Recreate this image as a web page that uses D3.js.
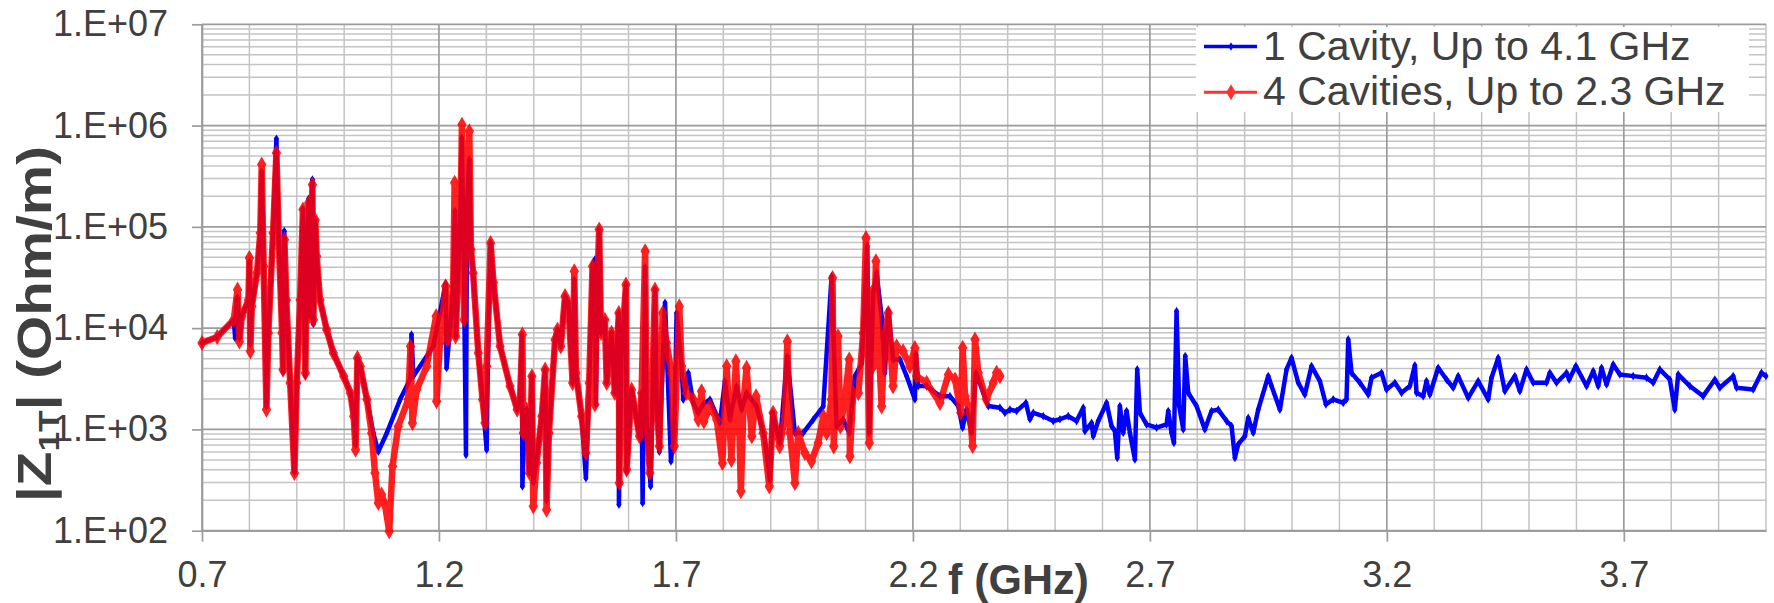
<!DOCTYPE html>
<html>
<head>
<meta charset="utf-8">
<script src="https://cdn.jsdelivr.net/npm/d3@7"></script>
<style>
  body { margin: 0; background: #fff; }
  svg { display: block; font-family: "Liberation Sans", Arial, sans-serif; }
</style>
</head>
<body>
<svg width="1774" height="603"></svg>
<script>
// series names (legend)
let series_names = ["1 Cavity, Up to 4.1 GHz", "4 Cavities, Up to 2.3 GHz"];

// axis ticks
let x_ticks = [0.7, 1.2, 1.7, 2.2, 2.7, 3.2, 3.7];
let y_ticks = [1e2, 1e3, 1e4, 1e5, 1e6, 1e7];

// |Z1T| for 1 cavity : [f (GHz), Ohm/m]
let cavity_1 = [
  [0.700, 7150], [0.732, 8180], [0.767, 12100], [0.770, 8000], [0.773, 19000], [0.775, 20000],
  [0.779, 8000], [0.784, 13100], [0.798, 19000], [0.800, 45000], [0.802, 7000], [0.805, 16400],
  [0.816, 35100], [0.823, 87000], [0.826, 350000], [0.830, 40800], [0.836, 1700], [0.840, 8970],
  [0.850, 87000], [0.857, 740000], [0.862, 74800], [0.869, 8970], [0.871, 3700], [0.8735, 91000],
  [0.878, 19000], [0.886, 2880], [0.895, 380], [0.900, 2880], [0.907, 19000], [0.913, 150000],
  [0.918, 3400], [0.921, 40800], [0.925, 189000], [0.928, 13100], [0.933, 293000], [0.935, 11000],
  [0.939, 117000], [0.942, 51300], [0.949, 19000], [0.963, 9660], [0.977, 5690], [0.999, 3350],
  [1.013, 2290], [1.020, 1350], [1.024, 700], [1.028, 5080], [1.034, 4210], [1.048, 1970],
  [1.062, 900], [1.072, 603], [1.090, 923], [1.118, 1970], [1.140, 3200], [1.142, 8630],
  [1.146, 3350], [1.188, 6610], [1.214, 27300], [1.216, 4050], [1.2232, 9660], [1.230, 25900],
  [1.2337, 143000], [1.2358, 8300], [1.241, 40800], [1.246, 186000], [1.248, 755000], [1.252, 60000],
  [1.257, 562], [1.259, 150000], [1.264, 461000], [1.2675, 59700], [1.272, 35100], [1.283, 5690],
  [1.292, 1970], [1.3006, 631], [1.303, 4210], [1.309, 69200], [1.315, 28200], [1.329, 6610],
  [1.350, 2670], [1.365, 1570], [1.371, 1970], [1.375, 8630], [1.376, 274], [1.380, 923],
  [1.385, 1570], [1.391, 372], [1.396, 3350], [1.399, 300], [1.406, 500], [1.417, 1350],
  [1.424, 3890], [1.427, 200], [1.432, 923], [1.445, 7700], [1.450, 9660], [1.457, 6610],
  [1.466, 20700], [1.473, 17800], [1.482, 2880], [1.4855, 30000], [1.489, 3610], [1.501, 1350],
  [1.510, 331], [1.517, 2880], [1.524, 40800], [1.529, 47500], [1.531, 1760], [1.534, 19000],
  [1.538, 94000], [1.542, 8970], [1.550, 12100], [1.554, 2880], [1.564, 8970], [1.571, 2290],
  [1.579, 14100], [1.5797, 181], [1.585, 5690], [1.5945, 26900], [1.596, 386], [1.6065, 2470],
  [1.623, 855], [1.6275, 2290], [1.6297, 188], [1.635, 40000], [1.638, 1250], [1.6465, 274],
  [1.6557, 24000], [1.659, 1970], [1.665, 603], [1.677, 17800], [1.680, 7150], [1.6895, 484],
  [1.6965, 1000], [1.7014, 14100], [1.712, 4210], [1.7154, 1970], [1.726, 3610], [1.7365, 1820],
  [1.747, 1460], [1.7576, 1780], [1.7717, 1970], [1.7928, 1160], [1.8033, 2990], [1.8139, 1260],
  [1.828, 2670], [1.8385, 1570], [1.8491, 2290], [1.8701, 1690], [1.8877, 800], [1.8983, 316],
  [1.9039, 1460], [1.9194, 735], [1.9348, 5250], [1.951, 923], [1.9686, 923], [1.9897, 1250],
  [2.0108, 1690], [2.0284, 32400], [2.0389, 1070], [2.053, 1250], [2.0656, 923], [2.0776, 3350],
  [2.0917, 4470], [2.1036, 64600], [2.1078, 923], [2.1163, 22300], [2.1233, 35100], [2.1339, 13100],
  [2.1409, 3610], [2.1479, 15100], [2.1584, 4900], [2.1726, 4910], [2.1867, 3360], [2.2042, 1980],
  [2.2064, 5500], [2.2113, 2680], [2.2289, 2680], [2.257, 2130], [2.2781, 2130], [2.2957, 1700],
  [2.3048, 1040], [2.3133, 1570], [2.3238, 927], [2.3329, 3620], [2.3484, 2300], [2.359, 1700],
  [2.3836, 1640], [2.3941, 1460], [2.4047, 1570], [2.4187, 1520], [2.4384, 1830], [2.4469, 1260],
  [2.4539, 1460], [2.475, 1350], [2.4961, 1210], [2.5102, 1260], [2.5277, 1350], [2.5453, 1210],
  [2.5594, 1640], [2.5629, 964], [2.577, 1160], [2.5805, 859], [2.591, 1210], [2.6086, 1830],
  [2.6191, 1080], [2.6262, 964], [2.6311, 525], [2.6367, 1700], [2.6438, 927], [2.6508, 1520],
  [2.6578, 927], [2.6684, 506], [2.6733, 3910], [2.679, 1460], [2.693, 1120], [2.7141, 1040],
  [2.7352, 1120], [2.7387, 1520], [2.7457, 927], [2.7507, 738], [2.7563, 14700], [2.7619, 1700],
  [2.7704, 1000], [2.7746, 5300], [2.7809, 2300], [2.7985, 1700], [2.816, 1000], [2.8301, 1520],
  [2.8442, 1570], [2.8618, 1210], [2.8723, 1080], [2.8794, 525], [2.8864, 711], [2.9005, 859],
  [2.9075, 1300], [2.9181, 927], [2.9286, 1570], [2.9497, 3360], [2.9567, 2680], [2.9743, 1570],
  [2.9884, 3910], [2.9989, 5090], [3.013, 2890], [3.027, 2210], [3.0411, 4220], [3.0587, 3000],
  [3.0714, 1770], [3.0868, 1980], [3.1079, 1830], [3.1149, 1980], [3.1185, 7730], [3.1255, 3620],
  [3.1431, 2890], [3.1607, 2210], [3.1677, 3240], [3.1888, 3620], [3.1993, 2480], [3.2169, 2890],
  [3.231, 2300], [3.2486, 2680], [3.2591, 4290], [3.2626, 2300], [3.2767, 2130], [3.2837, 3000],
  [3.2907, 2210], [3.3083, 4060], [3.3259, 3110], [3.34, 2580], [3.3505, 3360], [3.3716, 2050],
  [3.3927, 3000], [3.4138, 1980], [3.4209, 3240], [3.4349, 5090], [3.449, 2390], [3.4701, 3360],
  [3.4806, 2390], [3.4947, 3910], [3.5088, 2890], [3.5369, 2890], [3.5439, 3620], [3.558, 2890],
  [3.5791, 3620], [3.5847, 3110], [3.5988, 4220], [3.6213, 2680], [3.6354, 3770], [3.6459, 2680],
  [3.653, 4060], [3.6635, 2780], [3.6776, 4380], [3.6916, 3490], [3.7197, 3360], [3.7478, 3240],
  [3.7619, 2890], [3.776, 3910], [3.7971, 3110], [3.8076, 1570], [3.8147, 3490], [3.8393, 2680],
  [3.8674, 2130], [3.892, 3110], [3.9026, 2580], [3.9307, 3360], [3.9378, 2580], [3.9729, 2480],
  [3.9905, 3620], [4.000, 3360]
];

// |Z1T| for 4 cavities : [f (GHz), Ohm/m]
let cavities_4 = [
  [0.700, 7150], [0.732, 8180], [0.767, 12100], [0.775, 24000], [0.779, 7400], [0.784, 13100],
  [0.798, 19000], [0.800, 49300], [0.802, 5900], [0.805, 16400], [0.816, 35100], [0.823, 87000],
  [0.826, 412000], [0.830, 40800], [0.836, 1570], [0.840, 8970], [0.850, 87000], [0.857, 537000],
  [0.862, 74800], [0.869, 8970], [0.871, 3890], [0.874, 74800], [0.878, 19000], [0.886, 2880],
  [0.895, 372], [0.900, 2880], [0.907, 19000], [0.913, 148000], [0.918, 3610], [0.921, 40800],
  [0.925, 172000], [0.928, 13100], [0.933, 261000], [0.935, 12100], [0.939, 117000], [0.942, 51300],
  [0.949, 19000], [0.963, 9660], [0.977, 5690], [0.999, 3350], [1.013, 2290], [1.020, 1350],
  [1.024, 631], [1.028, 5080], [1.034, 4210], [1.048, 1970], [1.058, 923], [1.065, 372],
  [1.072, 188], [1.079, 227], [1.086, 181], [1.095, 99], [1.102, 433], [1.114, 1070],
  [1.135, 1970], [1.140, 6610], [1.144, 1160], [1.153, 2460], [1.174, 4210], [1.194, 13100],
  [1.195, 1900], [1.202, 7150], [1.214, 25900], [1.218, 7700], [1.223, 9660], [1.230, 25900],
  [1.233, 272000], [1.235, 8300], [1.241, 40800], [1.246, 186000], [1.2485, 1020000], [1.253, 12100],
  [1.258, 186000], [1.264, 880000], [1.2675, 59700], [1.272, 35100], [1.283, 5690], [1.292, 1970],
  [1.297, 1160], [1.3006, 4210], [1.309, 69200], [1.315, 28200], [1.329, 6610], [1.350, 2670],
  [1.365, 1570], [1.371, 1970], [1.376, 8630], [1.378, 923], [1.385, 1570], [1.391, 372],
  [1.396, 3350], [1.399, 174], [1.406, 468], [1.417, 1350], [1.424, 3890], [1.427, 161],
  [1.432, 923], [1.445, 7700], [1.450, 9660], [1.457, 6610], [1.466, 20700], [1.473, 17800],
  [1.482, 2880], [1.4855, 36500], [1.489, 3610], [1.501, 1350], [1.510, 585], [1.517, 2880],
  [1.524, 40800], [1.529, 1760], [1.533, 19000], [1.538, 94000], [1.542, 8970], [1.550, 12100],
  [1.554, 2880], [1.564, 8970], [1.571, 2290], [1.5795, 14100], [1.5805, 296], [1.585, 5690],
  [1.5945, 26900], [1.596, 401], [1.6065, 2470], [1.623, 855], [1.6275, 2290], [1.635, 57500],
  [1.638, 1250], [1.645, 372], [1.6557, 24000], [1.659, 1970], [1.665, 681], [1.672, 14100],
  [1.680, 7150], [1.691, 3610], [1.6965, 681], [1.707, 16400], [1.712, 4210], [1.7225, 2290],
  [1.7365, 1970], [1.747, 1250], [1.754, 2380], [1.759, 1200], [1.772, 1690], [1.786, 1250],
  [1.798, 467], [1.807, 4210], [1.817, 501], [1.8265, 4710], [1.834, 923], [1.837, 245],
  [1.843, 1970], [1.849, 4050], [1.860, 855], [1.869, 2120], [1.884, 923], [1.897, 274],
  [1.905, 1460], [1.919, 681], [1.930, 1350], [1.935, 7400], [1.9405, 923], [1.951, 296],
  [1.958, 923], [1.972, 585], [1.986, 484], [2.000, 735], [2.011, 1350], [2.018, 923],
  [2.028, 1970], [2.0305, 31300], [2.033, 681], [2.042, 8320], [2.047, 1070], [2.0565, 1970],
  [2.0656, 4900], [2.067, 543], [2.074, 2290], [2.085, 2290], [2.095, 8970], [2.101, 77600],
  [2.104, 8970], [2.108, 735], [2.113, 22300], [2.116, 4210], [2.122, 45700], [2.130, 4210],
  [2.134, 1690], [2.141, 8970], [2.148, 14100], [2.158, 2670], [2.1655, 6610], [2.1795, 5890],
  [2.1936, 4210], [2.2042, 6370], [2.2078, 3360], [2.229, 2890], [2.257, 1830], [2.275, 3490],
  [2.289, 3110], [2.301, 1460], [2.305, 6400], [2.310, 2130], [2.320, 1460], [2.326, 686],
  [2.331, 7730], [2.338, 3620], [2.355, 1980], [2.3695, 2890], [2.3765, 3620], [2.3836, 3360]
];

let svg = d3.select("svg");

let x = d3.scaleLinear()
  .domain([0.7, 4.0])
  .range([202, 1766]);

let y = d3.scaleLog()
  .domain([1e2, 1e7])
  .range([530.7, 24.3]);

let text_color = "#404040";
let major_color = "#9c9c9c";
let minor_color = "#c4c4c4";

// gridlines
let minor_x = d3.range(8, 41).map(d => d / 10).filter(d => !x_ticks.some(t => Math.abs(t - d) < 1e-6));
let minor_y = [];
y_ticks.slice(0, -1).forEach(d => {
  for (let k = 2; k <= 9; k++) minor_y.push(d * k);
});

let grid = svg.append("g").attr("class", "grid");

grid.selectAll("line.minor-y")
  .data(minor_y)
  .join("line")
    .attr("x1", x(0.7)).attr("x2", x(4.0))
    .attr("y1", d => y(d)).attr("y2", d => y(d))
    .attr("stroke", minor_color).attr("stroke-width", 1.5);

grid.selectAll("line.minor-x")
  .data(minor_x)
  .join("line")
    .attr("x1", d => x(d)).attr("x2", d => x(d))
    .attr("y1", y(1e7)).attr("y2", y(1e2))
    .attr("stroke", minor_color).attr("stroke-width", 1.5);

grid.selectAll("line.major-y")
  .data(y_ticks)
  .join("line")
    .attr("x1", x(0.7)).attr("x2", x(4.0))
    .attr("y1", d => y(d)).attr("y2", d => y(d))
    .attr("stroke", major_color).attr("stroke-width", 1.7);

grid.selectAll("line.major-x")
  .data(x_ticks)
  .join("line")
    .attr("x1", d => x(d)).attr("x2", d => x(d))
    .attr("y1", y(1e7)).attr("y2", y(1e2))
    .attr("stroke", major_color).attr("stroke-width", 1.7);

// axes
let y_axis = d3.axisLeft(y)
  .tickValues(y_ticks)
  .tickFormat(d => "1.E+" + String(Math.round(Math.log10(d))).padStart(2, "0"))
  .tickSize(10)
  .tickSizeOuter(0)
  .tickPadding(24);

let x_axis = d3.axisBottom(x)
  .tickValues(x_ticks)
  .tickFormat(d3.format(".1f"))
  .tickSize(11)
  .tickSizeOuter(0)
  .tickPadding(20);

let gy = svg.append("g")
  .attr("transform", "translate(" + x(0.7) + ",0)")
  .call(y_axis);

let gx = svg.append("g")
  .attr("transform", "translate(0," + y(1e2) + ")")
  .call(x_axis);

[gx, gy].forEach(g => {
  g.select(".domain").attr("stroke", major_color).attr("stroke-width", 1.7);
  g.selectAll(".tick line").attr("stroke", major_color).attr("stroke-width", 1.7);
  g.selectAll(".tick text")
    .attr("fill", text_color)
    .attr("font-size", 36)
    .attr("font-family", "'Liberation Sans', Arial, sans-serif");
});

// series
let line = d3.line()
  .x(d => x(d[0]))
  .y(d => y(d[1]));

let diamond_small = d3.symbol().type(d3.symbolDiamond).size(22);
let diamond_big = d3.symbol().type(d3.symbolDiamond).size(75);

let g_blue = svg.append("g").attr("class", "serie-1");
g_blue.append("path")
  .datum(cavity_1)
  .attr("d", line)
  .attr("fill", "none")
  .attr("stroke", "#0000ff")
  .attr("stroke-width", 4.5)
  .attr("stroke-linejoin", "round");
g_blue.selectAll("path.mk")
  .data(cavity_1)
  .join("path")
    .attr("class", "mk")
    .attr("d", diamond_small)
    .attr("transform", d => "translate(" + x(d[0]) + "," + y(d[1]) + ")")
    .attr("fill", "#0000ff");

let g_red = svg.append("g").attr("class", "serie-4").attr("opacity", 0.87);
g_red.append("path")
  .datum(cavities_4)
  .attr("d", line)
  .attr("fill", "none")
  .attr("stroke", "#ff0000")
  .attr("stroke-width", 6.5)
  .attr("stroke-linejoin", "round");
g_red.selectAll("path.mk")
  .data(cavities_4)
  .join("path")
    .attr("class", "mk")
    .attr("d", diamond_big)
    .attr("transform", d => "translate(" + x(d[0]) + "," + y(d[1]) + ")")
    .attr("fill", "#ff0000");

// legend
let legend = svg.append("g").attr("class", "legend");
legend.append("rect")
  .attr("x", 1196).attr("y", 27)
  .attr("width", 553).attr("height", 85)
  .attr("fill", "#fff");

let leg_colors = ["#0000ff", "#ff3030"];
let leg_items = legend.selectAll("g.item")
  .data(series_names)
  .join("g")
    .attr("class", "item")
    .attr("transform", (d, i) => "translate(1204," + (46.5 + i * 45.8) + ")");

leg_items.append("line")
  .attr("x1", 0).attr("x2", 53)
  .attr("stroke", (d, i) => leg_colors[i])
  .attr("stroke-width", (d, i) => i == 0 ? 3.5 : 3);
leg_items.append("path")
  .attr("d", (d, i) => i == 0 ? diamond_small() : diamond_big())
  .attr("transform", "translate(27,0)")
  .attr("fill", (d, i) => leg_colors[i]);
leg_items.append("text")
  .attr("x", 59)
  .attr("y", 13)
  .attr("font-size", 41)
  .attr("fill", text_color)
  .text(d => d);

// axis titles
svg.append("text")
  .attr("x", 948)
  .attr("y", 594)
  .attr("font-size", 43)
  .attr("font-weight", "bold")
  .attr("fill", text_color)
  .text("f (GHz)");

let y_title = svg.append("text")
  .attr("transform", "translate(51,324) rotate(-90) scale(1.18,1)")
  .attr("text-anchor", "middle")
  .attr("font-size", 48)
  .attr("font-weight", "bold")
  .attr("fill", text_color);
y_title.append("tspan").text("|Z");
y_title.append("tspan").attr("font-size", 30).attr("dy", 8).text("1T");
y_title.append("tspan").attr("dy", -8).text("| (Ohm/m)");
</script>
</body>
</html>
